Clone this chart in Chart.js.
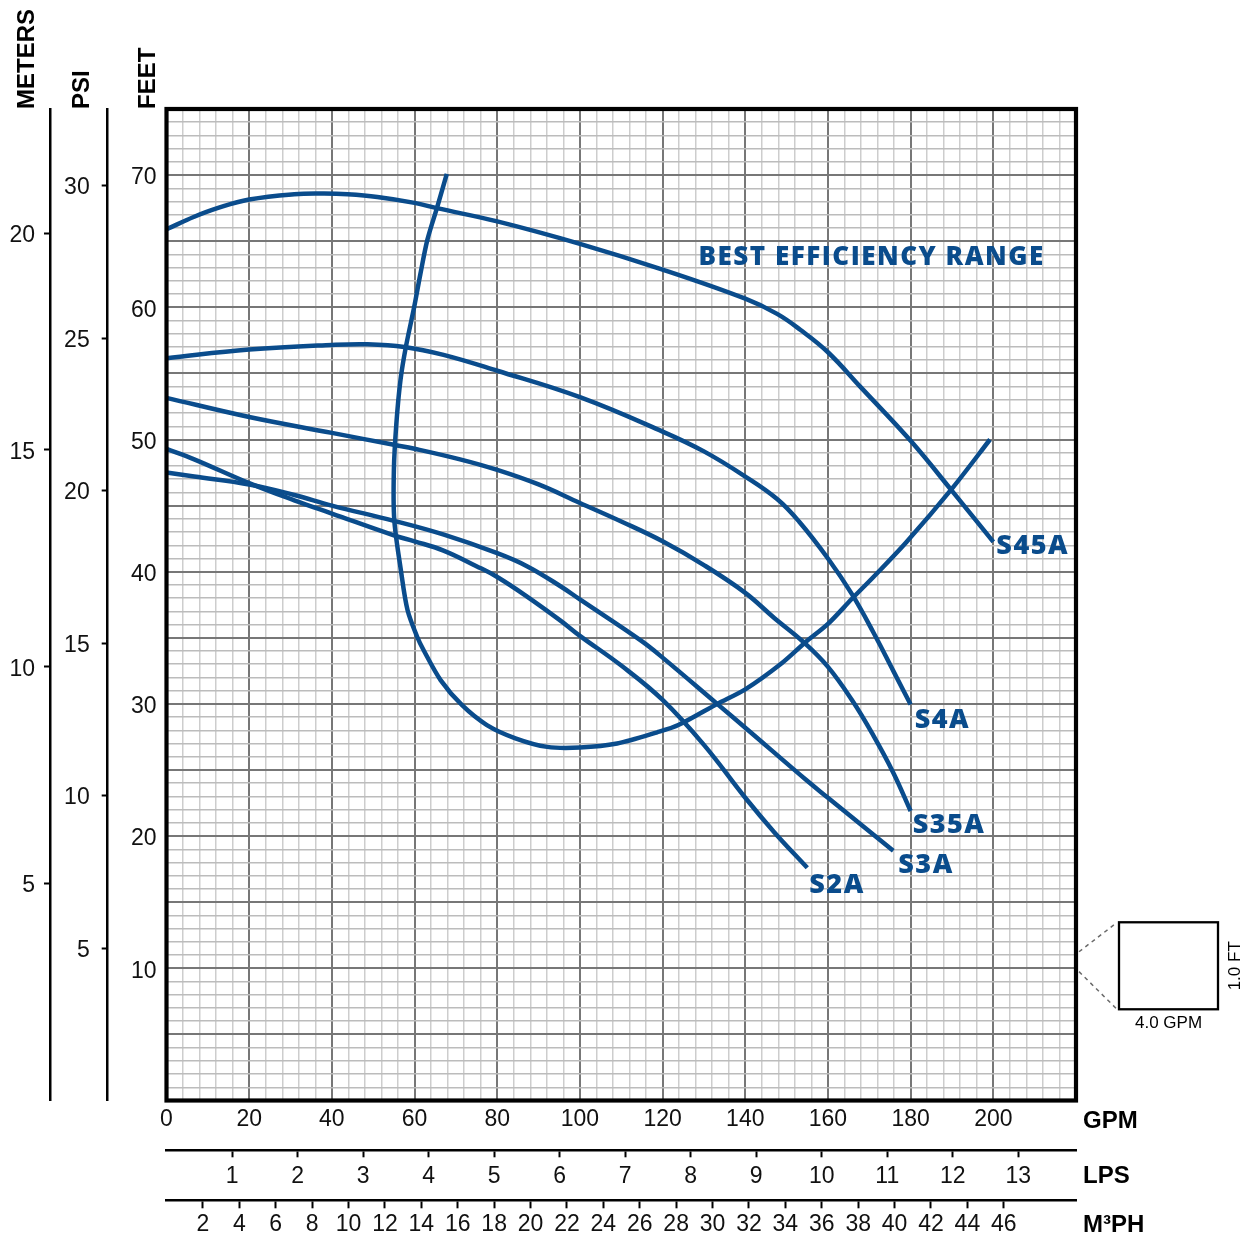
<!DOCTYPE html>
<html>
<head>
<meta charset="utf-8">
<script src="https://cdn.jsdelivr.net/npm/chart.js"></script>
<style>
  html, body { margin: 0; padding: 0; background: #fff; }
  canvas { display: block; }
</style>
</head>
<body>
<canvas id="graficoBomba" width="1252" height="1238"></canvas>
<script>
// Curvas de la bomba, puntos [GPM, FEET]
const curvaS45A = [[0,65.9],[6.7,66.85],[12.3,67.5],[20,68.15],[30.9,68.55],[38.1,68.6],[43.8,68.55],[51,68.35],[60,67.9],[65.4,67.5],[80,66.5],[100,64.8],[120,62.85],[140,60.65],[147.7,59.5],[153.3,58.3],[160,56.6],[167.8,54],[180,49.9],[190.3,46],[200,42.25]]
const curvaS4A = [[0,56.15],[20,56.8],[40,57.15],[48.6,57.2],[57.5,57.0],[67,56.4],[80,55.2],[100,53.2],[120,50.6],[130,49.1],[140,47.2],[147.7,45.5],[153,43.8],[160,41.0],[165.8,38.3],[171,35.4],[175.8,32.5],[180,29.95]]
const curvaS35A = [[0,53.15],[20,51.7],[40,50.5],[55,49.6],[60,49.3],[71,48.5],[80,47.7],[90,46.6],[100,45.2],[110,43.8],[120,42.3],[130,40.5],[140,38.4],[147,36.5],[154,34.7],[160,32.8],[166,30.2],[171,27.6],[175.8,24.8],[180,21.9]]
const curvaS3A = [[0,47.5],[6.7,47.2],[20,46.6],[30.9,45.8],[40,45.0],[55,43.85],[67.1,42.8],[80,41.4],[87.3,40.4],[95.3,38.9],[100,37.9],[114.7,34.8],[120,33.5],[133.2,30.0],[140,28.2],[154.9,24.2],[160,22.9],[175.8,18.9]]
const curvaS2A = [[0,49.3],[6.7,48.5],[20,46.7],[30.9,45.4],[40,44.4],[55,42.75],[60,42.3],[67,41.6],[75.1,40.4],[80,39.6],[87.3,38.1],[95.3,36.3],[100,35.15],[110,32.9],[120,30.3],[130,26.9],[140,22.9],[147,20.3],[155,17.6]]
const curvaEficiencia = [[67.8,70.1],[65.5,67.6],[63.1,65.1],[61.4,62.5],[59.9,60],[57.9,57],[56.6,54.5],[55.6,51.2],[55,47.7],[55.1,43.9],[56.7,40.1],[58.3,37.1],[60.6,35.1],[62.3,34.0],[66.3,31.8],[71.5,29.9],[77.5,28.4],[84.4,27.4],[92.1,26.75],[100,26.7],[109,27.0],[118.7,27.85],[123.8,28.4],[133.2,30.0],[140,31.1],[148.5,33.0],[154.5,34.65],[160,36.05],[165.8,37.95],[171,39.6],[179,42.25],[190.3,46.4],[199.2,50.0]]

const curvas = [curvaS45A, curvaS4A, curvaS35A, curvaS3A, curvaS2A]
const nombresCurvas = ['S45A', 'S4A', 'S35A', 'S3A', 'S2A']
const textoEficiencia = 'BEST EFFICIENCY RANGE'

// Etiquetas de los ejes
const etiquetasGpm = [0, 20, 40, 60, 80, 100, 120, 140, 160, 180, 200]
const etiquetasFeet = [10, 20, 30, 40, 50, 60, 70]
const etiquetasPsi = [5, 10, 15, 20, 25, 30]
const etiquetasMetros = [5, 10, 15, 20]
const etiquetasLps = [1, 2, 3, 4, 5, 6, 7, 8, 9, 10, 11, 12, 13]
const etiquetasM3ph = [2, 4, 6, 8, 10, 12, 14, 16, 18, 20, 22, 24, 26, 28, 30, 32, 34, 36, 38, 40, 42, 44, 46]

// Rangos y conversiones
const GPM_MAX = 220
const FEET_MAX = 75
const PSI_POR_PIE = 0.4335
const METROS_POR_PIE = 0.3048
const LPS_POR_GPM = 0.0630902
const M3PH_POR_GPM = 0.2271247

const azul = '#0a4c8c'
const colorMayor = '#777777'
const colorMenorV = '#cdcdcd'
const colorMenorH = '#bcbcbc'
const fuenteEjes = '"Liberation Sans", Arial, Helvetica, sans-serif'
const fuenteCurvas = '"Open Sans", "Noto Sans", sans-serif'

Chart.defaults.font.family = fuenteEjes
Chart.defaults.color = '#000'

const aPuntos = pts => pts.map(p => ({ x: p[0], y: p[1] }))

const estiloLinea = { showLine: true, borderColor: azul, borderWidth: 4.5, pointRadius: 0, fill: false, tension: 0.4 }

// Textos, marco y cuadro de escala
const extras = {
    id: 'extras',
    afterDatasetsDraw(chart) {
        const { ctx, chartArea: a, scales } = chart
        ctx.save()

        // marco grueso
        ctx.strokeStyle = '#000'
        ctx.lineWidth = 4.2
        ctx.strokeRect(a.left, a.top, a.right - a.left, a.bottom - a.top)

        // nombres de curvas
        const desfases = [[3, 3], [4, 13.5], [2, 12.5], [5, 13], [2, 16]]
        ctx.fillStyle = azul
        ctx.font = '800 27px ' + fuenteCurvas
        ctx.letterSpacing = '1.5px'
        ctx.textAlign = 'left'
        ctx.textBaseline = 'alphabetic'
        nombresCurvas.forEach((nombre, i) => {
            const meta = chart.getDatasetMeta(i)
            const ultimo = meta.data[meta.data.length - 1]
            ctx.fillText(nombre, ultimo.x + desfases[i][0], ultimo.y + desfases[i][1] + 9.5)
        })

        ctx.font = '800 26px ' + fuenteCurvas
        ctx.fillText(textoEficiencia, scales.x.getPixelForValue(128.7), scales.y.getPixelForValue(63.87) + 9)
        ctx.letterSpacing = '0px'

        // titulos de ejes verticales
        ctx.fillStyle = '#000'
        ctx.font = 'bold 24px ' + fuenteEjes
        const titulosV = [['METERS', scales.meters.right - 23], ['PSI', scales.psi.right - 25], ['FEET', scales.y.right - 18.5]]
        titulosV.forEach(([t, x]) => {
            ctx.save()
            ctx.translate(x, a.top)
            ctx.rotate(-Math.PI / 2)
            ctx.textAlign = 'left'
            ctx.textBaseline = 'middle'
            ctx.fillText(t, 0, 0)
            ctx.restore()
        })

        // titulos de ejes horizontales
        ctx.textAlign = 'left'
        ctx.textBaseline = 'middle'
        ctx.fillText('GPM', a.right + 7, scales.x.top + 21)
        ctx.fillText('LPS', a.right + 7, scales.lps.top + 26)
        ctx.fillText('M\u00b3PH', a.right + 7, scales.m3ph.top + 25)

        // cuadro de escala
        const yA = scales.y.getPixelForValue(11.25)
        const yB = scales.y.getPixelForValue(9.75)
        const cx = a.right + 43, cy = yA - 29.5, cw = 99, ch = 87
        ctx.strokeStyle = '#6a6a6a'
        ctx.lineWidth = 1.5
        ctx.setLineDash([4, 4])
        ctx.beginPath()
        ctx.moveTo(a.right + 3, yA); ctx.lineTo(cx - 3, cy + 1)
        ctx.moveTo(a.right + 3, yB); ctx.lineTo(cx - 3, cy + ch - 1)
        ctx.stroke()
        ctx.setLineDash([])
        ctx.strokeStyle = '#000'
        ctx.lineWidth = 2.3
        ctx.strokeRect(cx, cy, cw, ch)

        ctx.font = '17px ' + fuenteEjes
        ctx.textAlign = 'center'
        ctx.fillText('4.0 GPM', cx + cw / 2, cy + ch + 14)
        ctx.save()
        ctx.translate(cx + cw + 17, cy + ch / 2)
        ctx.rotate(-Math.PI / 2)
        ctx.fillText('1.0 FT', 0, 0)
        ctx.restore()

        ctx.restore()
    }
}

const ejeSecundario = (extra) => Object.assign({
    type: 'linear',
    grid: { drawOnChartArea: false, tickLength: 7, tickWidth: 2, tickColor: '#000' },
    border: { color: '#000', width: 2.5 },
    ticks: { autoSkip: false, maxRotation: 0, font: { size: 23 }, color: '#111', padding: 6 }
}, extra)

const graficoBomba = new Chart(document.getElementById('graficoBomba'), {
    type: 'scatter',
    data: {
        datasets: [
            ...curvas.map((c, i) => Object.assign({ label: nombresCurvas[i], data: aPuntos(c) }, estiloLinea)),
            Object.assign({ label: textoEficiencia, data: aPuntos(curvaEficiencia) }, estiloLinea, { tension: 0.3 })
        ]
    },
    options: {
        responsive: false,
        animation: false,
        events: [],
        layout: { padding: { left: 0, right: 176, top: 109, bottom: 0 } },
        plugins: { legend: { display: false }, tooltip: { enabled: false } },
        scales: {
            x: {
                type: 'linear', position: 'bottom', weight: 0, min: 0, max: GPM_MAX,
                grid: {
                    drawTicks: false,
                    color: c => c.tick && c.tick.value % 20 === 0 ? colorMayor : colorMenorV,
                    lineWidth: c => c.tick && c.tick.value % 20 === 0 ? 2 : 1.5
                },
                border: { display: false },
                ticks: {
                    stepSize: 4, autoSkip: false, maxRotation: 0, padding: 5, font: { size: 23 }, color: '#111',
                    includeBounds: false,
                    callback: v => etiquetasGpm.includes(v) ? String(v) : ''
                },
                afterFit: s => { s.height = 49.8 }
            },
            lps: ejeSecundario({
                axis: 'x', position: 'bottom', weight: 1, min: 0, max: GPM_MAX * LPS_POR_GPM,
                afterBuildTicks: s => { s.ticks = etiquetasLps.map(v => ({ value: v })) },
                afterFit: s => { s.height = 50 }
            }),
            m3ph: ejeSecundario({
                axis: 'x', position: 'bottom', weight: 2, min: 0, max: GPM_MAX * M3PH_POR_GPM,
                grid: { drawOnChartArea: false, tickLength: 8, tickWidth: 2, tickColor: '#000' },
                ticks: { autoSkip: false, maxRotation: 0, font: { size: 23 }, color: '#111', padding: 3 },
                afterBuildTicks: s => { s.ticks = etiquetasM3ph.map(v => ({ value: v })) },
                afterFit: s => { s.height = 37.7 }
            }),
            y: {
                type: 'linear', position: 'left', weight: 0, min: 0, max: FEET_MAX,
                grid: {
                    drawTicks: false,
                    color: c => c.tick && c.tick.value % 5 === 0 ? colorMayor : colorMenorH,
                    lineWidth: c => c.tick && c.tick.value % 5 === 0 ? 2 : 1.5
                },
                border: { display: false },
                ticks: {
                    stepSize: 1, autoSkip: false, padding: 10, labelOffset: 3, font: { size: 23 }, color: '#111',
                    includeBounds: false,
                    callback: v => etiquetasFeet.includes(v) ? String(v) : ''
                },
                afterFit: s => { s.width = 58.8 }
            },
            psi: ejeSecundario({
                axis: 'y', position: 'left', weight: 1, min: 0, max: FEET_MAX * PSI_POR_PIE,
                grid: { drawOnChartArea: false, tickLength: 6, tickWidth: 2, tickColor: '#000' },
                ticks: { autoSkip: false, padding: 12, labelOffset: 2.5, font: { size: 23 }, color: '#111' },
                afterBuildTicks: s => { s.ticks = etiquetasPsi.map(v => ({ value: v })) },
                afterFit: s => { s.width = 57.7 }
            }),
            meters: ejeSecundario({
                axis: 'y', position: 'left', weight: 2, min: 0, max: FEET_MAX * METROS_POR_PIE,
                grid: { drawOnChartArea: false, tickLength: 6, tickWidth: 2, tickColor: '#000' },
                ticks: { autoSkip: false, padding: 9, labelOffset: 2.5, font: { size: 23 }, color: '#111' },
                afterBuildTicks: s => { s.ticks = etiquetasMetros.map(v => ({ value: v })) },
                afterFit: s => { s.width = 50 }
            })
        }
    },
    plugins: [extras]
})
</script>
</body>
</html>
